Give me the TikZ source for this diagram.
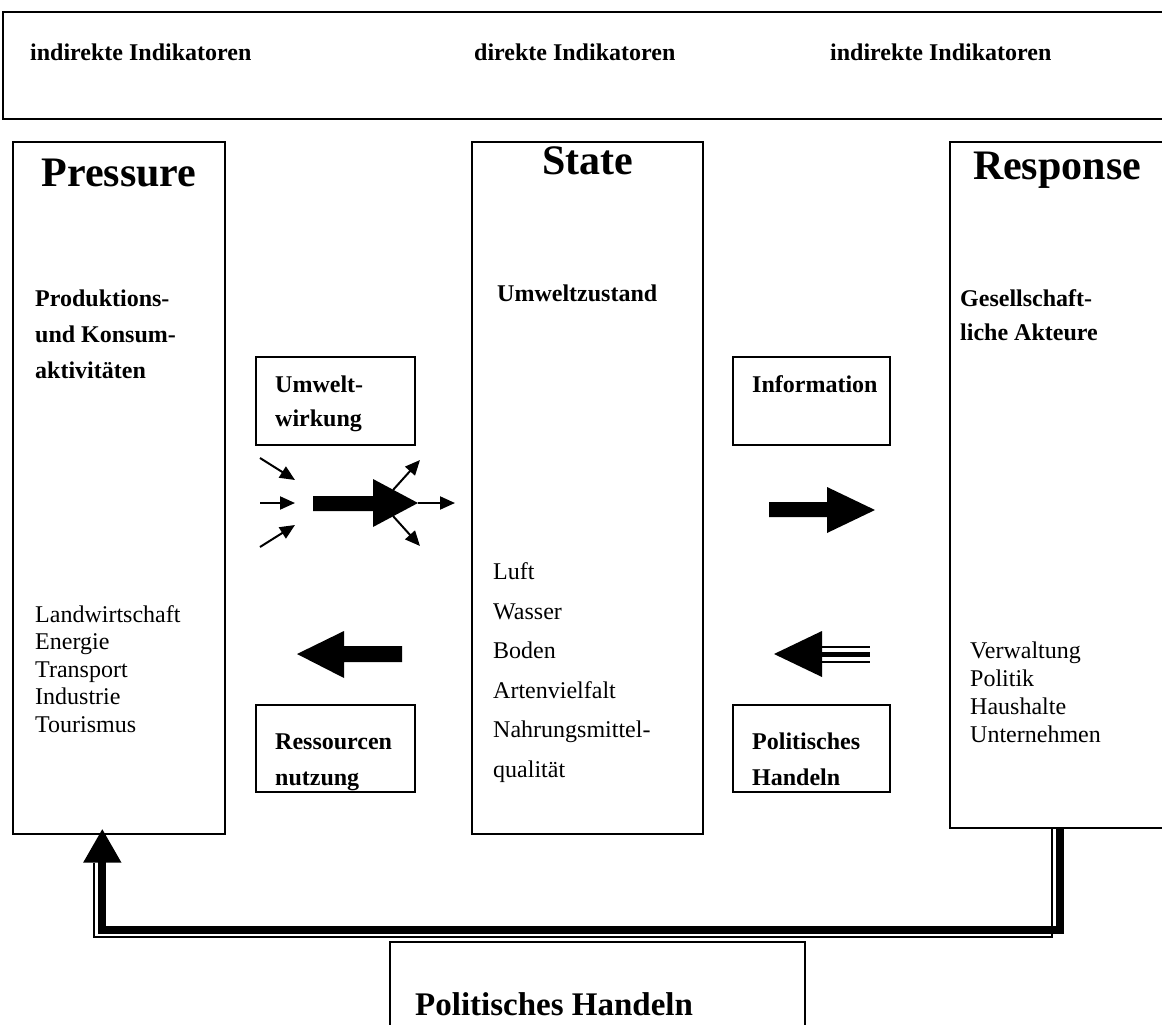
\documentclass[tikz,border=0pt]{standalone}
\usepackage{fontspec}
\setmainfont{Liberation Serif}
\usetikzlibrary{arrows.meta}

\begin{document}
\begin{tikzpicture}[x=1pt,y=-1pt,
    rahmen/.style={draw,line width=1.4pt,inner sep=0pt},
    titel/.style={font=\fontsize{42}{48}\selectfont\bfseries,anchor=base,inner sep=0pt},
    kopf/.style={font=\fontsize{24}{34}\selectfont\bfseries,align=left,anchor=base west,inner sep=0pt},
    liste/.style={font=\fontsize{24}{27.5}\selectfont,align=left,anchor=base west,inner sep=0pt},
    duenn/.style={line width=2pt,-{Triangle[length=15pt,width=13pt]}},
    fbdick/.style={line width=8pt,-{Triangle[length=34pt,width=36pt]}},
    fbduenn/.style={line width=2pt}
]
\useasboundingbox (0,0) rectangle (1162,1025);

% Indikatoren oben
\node[rahmen,minimum width=1162pt,minimum height=107pt] (indikatoren) at (584,65.5) {};
\node[kopf] (indir1) at (30,60) {indirekte Indikatoren};
\node[kopf] (dir) at (474,60) {direkte Indikatoren};
\node[kopf] (indir2) at (830,60) {indirekte Indikatoren};

% die drei Spalten
\node[rahmen,minimum width=212pt,minimum height=692pt] (pressure) at (119,488) {};
\node[rahmen,minimum width=231pt,minimum height=692pt] (state) at (587.5,488) {};
\node[rahmen,minimum width=220pt,minimum height=686pt] (response) at (1060,485) {};

\node[titel] (ptitel) at (119,186) {Pressure};
\node[titel] (stitel) at (588,174) {State};
\node[titel] (rtitel) at (1057,179) {Response};

% base = letzte Zeile
\node[kopf,font=\fontsize{24}{36}\selectfont\bfseries] (pkopf) at (35,378) {Produktions-\\und Konsum-\\aktivitäten};
\node[kopf] (skopf) at (497,301) {Umweltzustand};
\node[kopf] (rkopf) at (960,340) {Gesellschaft-\\liche Akteure};

\node[liste] (pliste) at (35,732) {Landwirtschaft\\Energie\\Transport\\Industrie\\Tourismus};
\node[liste,font=\fontsize{24}{39.5}\selectfont] (sliste) at (493,777) {Luft\\Wasser\\Boden\\Artenvielfalt\\Nahrungsmittel-\\qualität};
\node[liste,font=\fontsize{24}{28}\selectfont] (rliste) at (970,742) {Verwaltung\\Politik\\Haushalte\\Unternehmen};

% kleine Kaesten
\node[rahmen,minimum width=159pt,minimum height=88pt] (wirkung) at (335.5,401) {};
\node[kopf] (wtext) at (275,426) {Umwelt-\\wirkung};
\node[rahmen,minimum width=159pt,minimum height=87pt] (nutzung) at (335.5,748.5) {};
\node[kopf,font=\fontsize{24}{36}\selectfont\bfseries] (ntext) at (275,785) {Ressourcen\\nutzung};
\node[rahmen,minimum width=157pt,minimum height=88pt] (information) at (811.5,401) {};
\node[kopf] (itext) at (752,392) {Information};
\node[rahmen,minimum width=157pt,minimum height=87pt] (handeln) at (811.5,748.5) {};
\node[kopf,font=\fontsize{24}{36}\selectfont\bfseries] (htext) at (752,785) {Politisches\\Handeln};

% Politisches Handeln unten
\node[rahmen,minimum width=415pt,minimum height=100pt] (politik) at (597.5,992) {};
\node[kopf,font=\fontsize{33}{40}\selectfont\bfseries] (ptext) at (415,1015) {Politisches Handeln};

% Pfeile Umweltwirkung
\fill (313,496) -- (373,496) -- (373,479) -- (418,503) -- (373,527) -- (373,511) -- (313,511) -- cycle;
\draw[duenn] (260,458) -- (295,480);
\draw[duenn] (260,503) -- (295,503);
\draw[duenn] (260,547) -- (295,525);
\draw[duenn] (393,490) -- (420,460);
\draw[duenn] (418,503) -- (455,503);
\draw[duenn] (393,516) -- (420,546);

% Information
\fill (769,502) -- (827,502) -- (827,487) -- (875,510) -- (827,533) -- (827,517) -- (769,517) -- cycle;
% Ressourcennutzung
\fill (402,646) -- (344,646) -- (344,631) -- (297,654) -- (344,678) -- (344,662) -- (402,662) -- cycle;
% Politisches Handeln
\fill (822,631) -- (774,654) -- (822,677) -- cycle;
\draw[line width=2pt] (822,647) -- (870,647);
\draw[line width=5pt] (822,654.5) -- (870,654.5);
\draw[line width=2pt] (822,661.5) -- (870,661.5);

% Rueckkopplung Response -> Pressure
\draw[fbdick] (response.south) -- ++(0,101) -| ([xshift=90pt,yshift=6pt]pressure.south west);
\draw[fbduenn] ([xshift=-8pt]response.south) |- ([xshift=82pt,yshift=-102pt]pressure.south west)
    -- ([xshift=82pt,yshift=-28pt]pressure.south west);
\end{tikzpicture}
\end{document}
